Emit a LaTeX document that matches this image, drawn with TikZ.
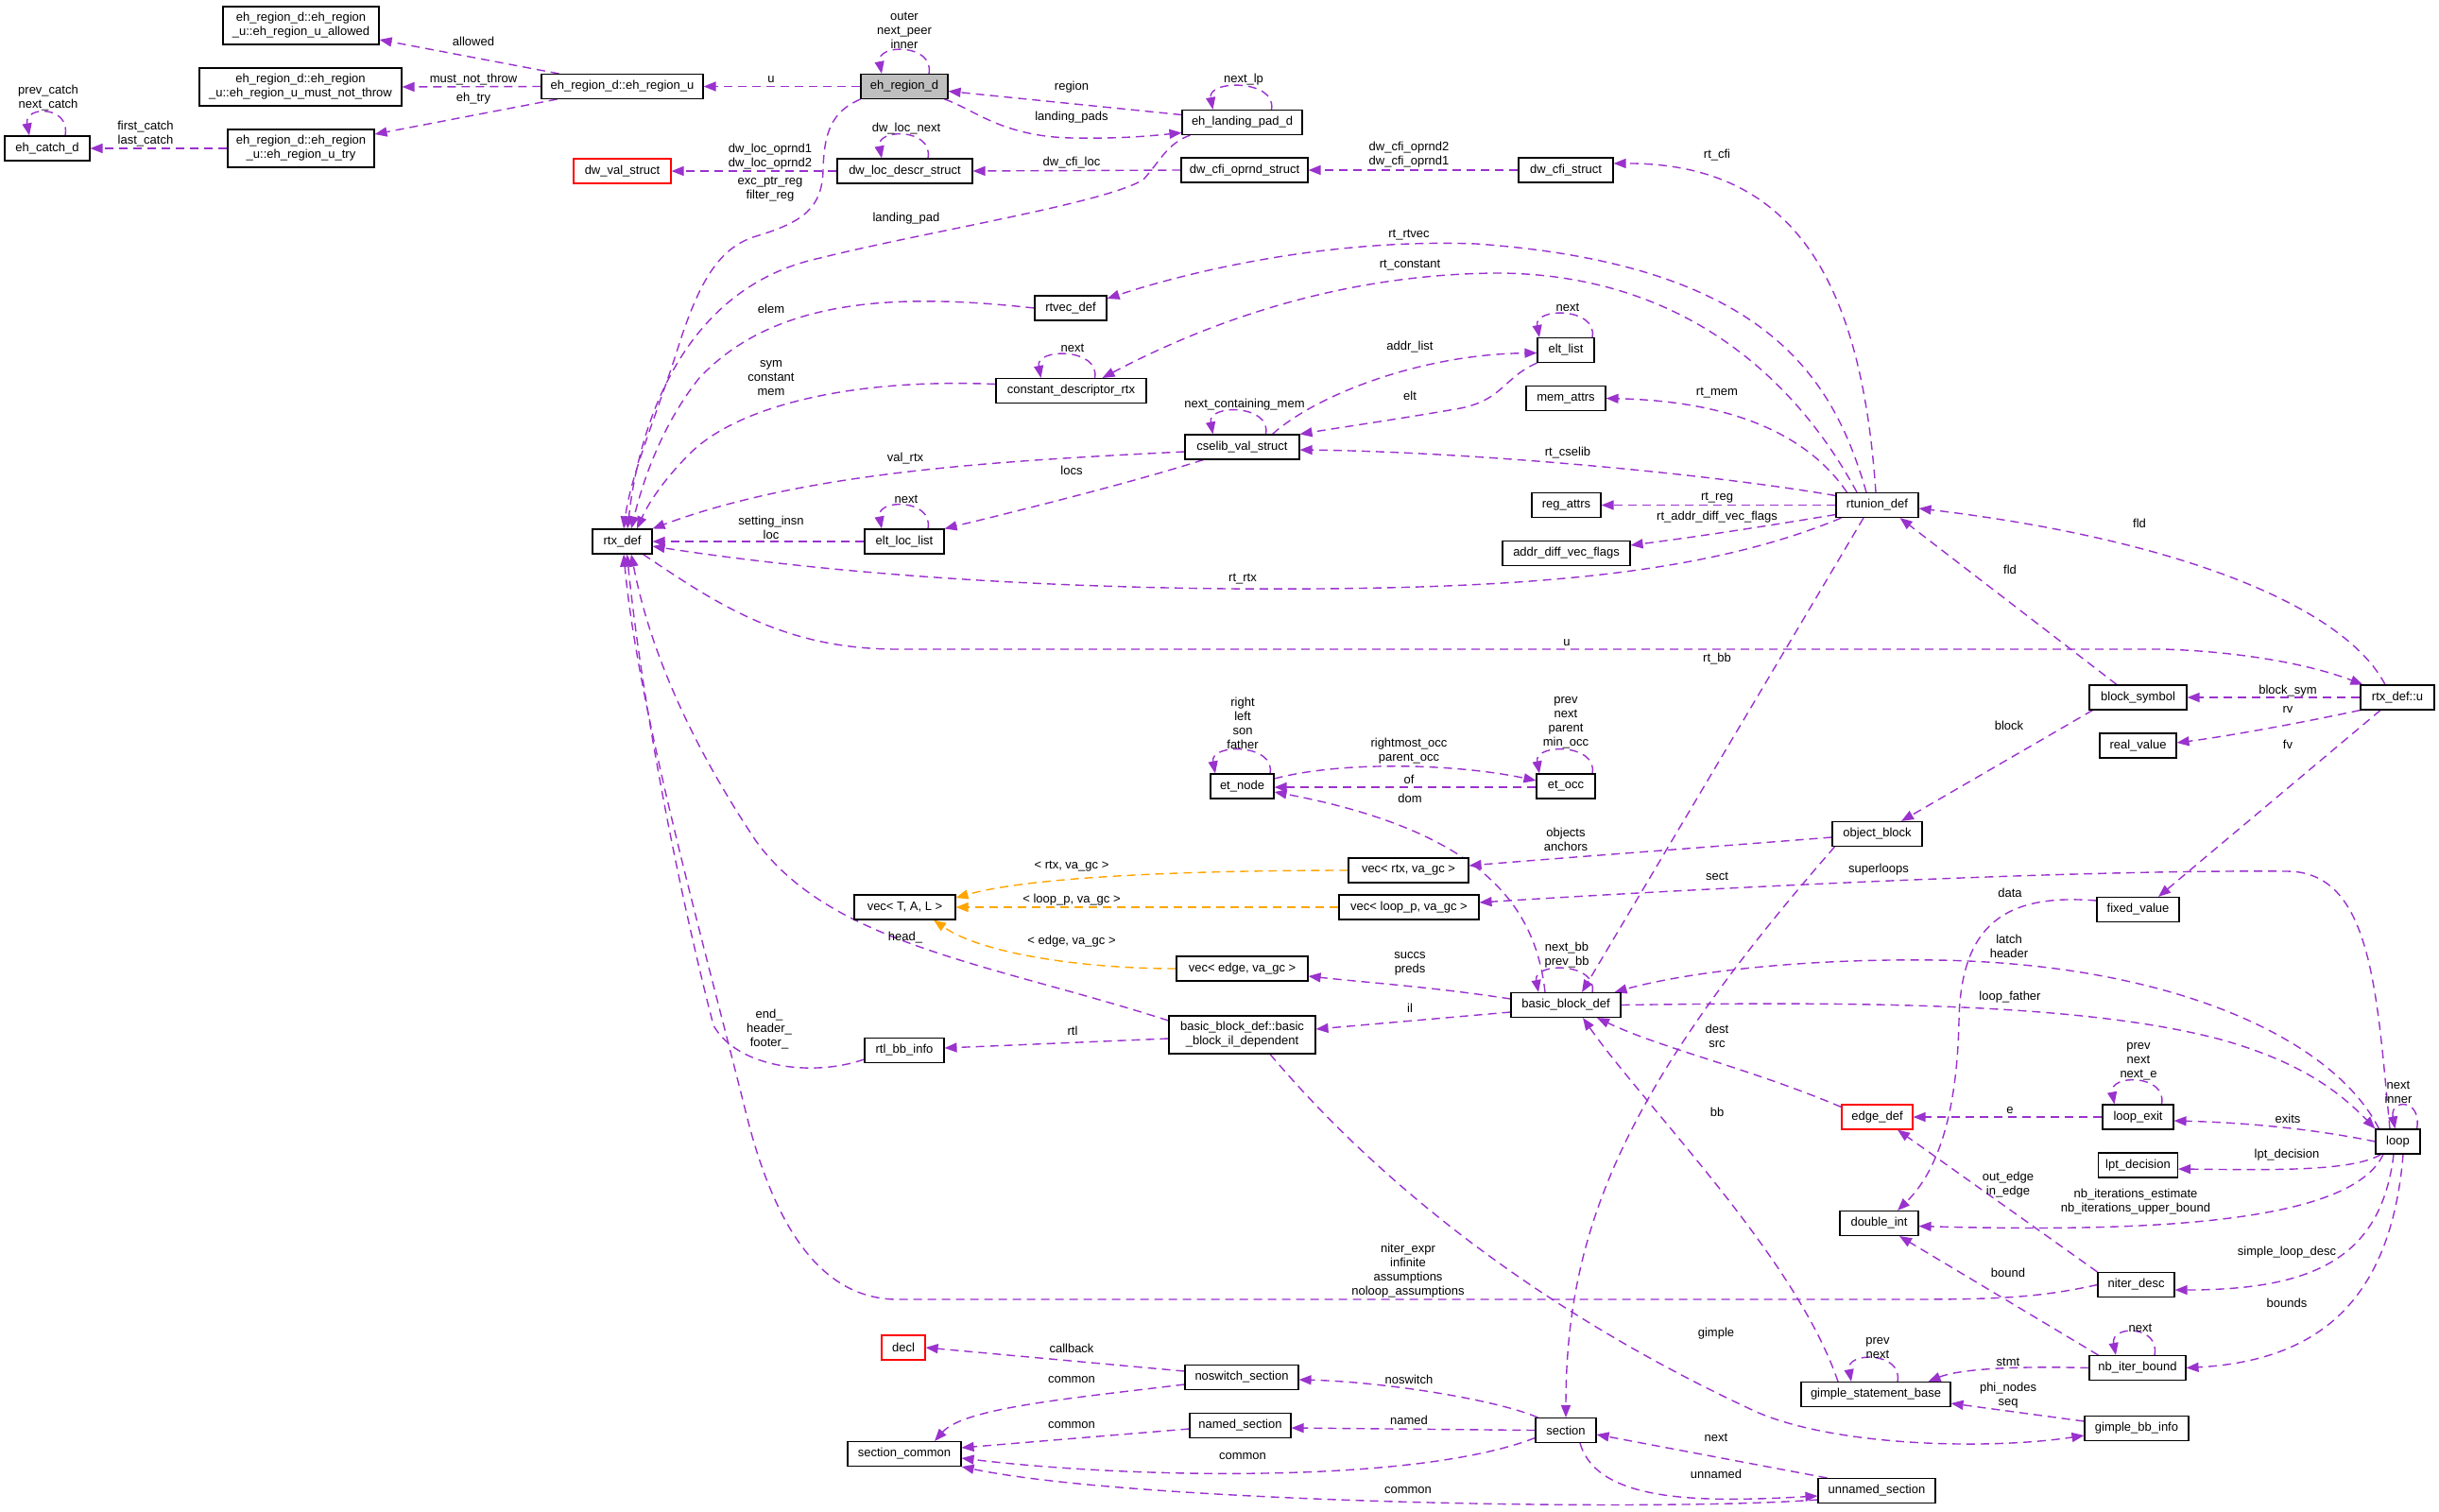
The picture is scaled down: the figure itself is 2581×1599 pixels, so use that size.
\documentclass[tikz,border=0pt]{standalone}
\usepackage{fontspec}
\setmainfont{Liberation Sans}
\usetikzlibrary{arrows.meta}
\definecolor{purp}{HTML}{9A32CD}
\definecolor{orng}{HTML}{FFA500}
\definecolor{gfill}{HTML}{BFBFBF}
\pgfdeclarelayer{background}
\pgfdeclarelayer{edges}
\pgfsetlayers{background,edges,main}
\begin{document}
\begin{tikzpicture}[x=1pt,y=-1pt,font=\fontsize{13}{15}\selectfont,
  box/.style={draw=black,line width=1.1pt,fill=white,inner sep=0pt,minimum height=26pt,align=center},
  lbl/.style={inner sep=0pt,align=center},
  conn/.style={draw=purp,line width=1.4pt,dash pattern=on 9pt off 6pt,-{Triangle[length=13pt,width=10pt]}},
  oconn/.style={conn,draw=orng}]
\begin{pgfonlayer}{background}
\fill[white] (0,0) rectangle (2581,1599);
\end{pgfonlayer}
\useasboundingbox (0,0) rectangle (2581,1599);

% ---------------- nodes ----------------
\node[box,minimum width=165pt,minimum height=40pt] (allowed) at (318.5,27) {eh\_region\_d::eh\_region\\\_u::eh\_region\_u\_allowed};
\node[box,minimum width=214pt,minimum height=40pt] (mustnot) at (318,92) {eh\_region\_d::eh\_region\\\_u::eh\_region\_u\_must\_not\_throw};
\node[box,minimum width=90pt] (ecatch) at (50,157) {eh\_catch\_d};
\node[box,minimum width=155pt,minimum height=40pt] (utry) at (318.5,157) {eh\_region\_d::eh\_region\\\_u::eh\_region\_u\_try};
\node[box,minimum width=171pt] (ehu) at (658.5,91.5) {eh\_region\_d::eh\_region\_u};
\node[box,draw=red,minimum width=103pt] (dwval) at (658.5,181) {dw\_val\_struct};
\node[box,fill=gfill,minimum width=92pt] (ehr) at (957,91.5) {eh\_region\_d};
\node[box,minimum width=127pt] (ehlp) at (1314.5,129.5) {eh\_landing\_pad\_d};
\node[box,minimum width=143pt] (dwloc) at (957.5,181) {dw\_loc\_descr\_struct};
\node[box,minimum width=134pt] (cfiop) at (1317,180) {dw\_cfi\_oprnd\_struct};
\node[box,minimum width=100pt] (cfi) at (1657,180) {dw\_cfi\_struct};
\node[box,minimum width=76pt] (rtvec) at (1133,326) {rtvec\_def};
\node[box,minimum width=159pt] (cdr) at (1133.5,413.5) {constant\_descriptor\_rtx};
\node[box,minimum width=60pt] (eltlist) at (1657,370.5) {elt\_list};
\node[box,minimum width=84pt] (memattrs) at (1657,421.5) {mem\_attrs};
\node[box,minimum width=121pt] (cselib) at (1314.5,473) {cselib\_val\_struct};
\node[box,minimum width=63pt] (rtx) at (658.5,573) {rtx\_def};
\node[box,minimum width=84pt] (eltloc) at (957,573) {elt\_loc\_list};
\node[box,minimum width=73pt] (regattrs) at (1657.5,534.5) {reg\_attrs};
\node[box,minimum width=135pt] (advf) at (1657.5,585.5) {addr\_diff\_vec\_flags};
\node[box,minimum width=87pt] (rtunion) at (1986.5,534.5) {rtunion\_def};
\node[box,minimum width=103pt] (bsym) at (2262.5,738) {block\_symbol};
\node[box,minimum width=78pt] (rtxu) at (2537,738) {rtx\_def::u};
\node[box,minimum width=81pt] (realv) at (2262.5,789) {real\_value};
\node[box,minimum width=67pt] (etnode) at (1314.5,832) {et\_node};
\node[box,minimum width=62pt] (etocc) at (1657,832) {et\_occ};
\node[box,minimum width=95pt] (objblk) at (1986.5,882.5) {object\_block};
\node[box,minimum width=127pt] (vecrtx) at (1490.5,921) {vec< rtx, va\_gc >};
\node[box,minimum width=107pt] (vectal) at (957.5,960) {vec< T, A, L >};
\node[box,minimum width=148pt] (veclp) at (1491,960) {vec< loop\_p, va\_gc >};
\node[box,minimum width=87pt] (fixv) at (2262.5,962.5) {fixed\_value};
\node[box,minimum width=139pt] (vecedge) at (1314.5,1025) {vec< edge, va\_gc >};
\node[box,minimum width=116pt] (bbd) at (1657,1063.5) {basic\_block\_def};
\node[box,minimum width=155pt,minimum height=40pt] (bbil) at (1314.5,1095) {basic\_block\_def::basic\\\_block\_il\_dependent};
\node[box,minimum width=84pt] (rtlbb) at (957,1111.5) {rtl\_bb\_info};
\node[box,draw=red,minimum width=75pt] (edgedef) at (1986.5,1182) {edge\_def};
\node[box,minimum width=75pt] (lexit) at (2262.5,1182) {loop\_exit};
\node[box,minimum width=47pt] (loopn) at (2537.5,1208) {loop};
\node[box,minimum width=84pt] (lpt) at (2262.5,1233) {lpt\_decision};
\node[box,minimum width=83pt] (dint) at (1988.5,1294.5) {double\_int};
\node[box,minimum width=81pt] (niter) at (2260.5,1359.5) {niter\_desc};
\node[box,draw=red,minimum width=46pt] (decl) at (956,1426) {decl};
\node[box,minimum width=120pt] (noswitch) at (1314,1457.5) {noswitch\_section};
\node[box,minimum width=102pt] (nbiter) at (2262,1447.5) {nb\_iter\_bound};
\node[box,minimum width=158pt] (gsb) at (1985,1475.5) {gimple\_statement\_base};
\node[box,minimum width=107pt] (named) at (1312.5,1508.5) {named\_section};
\node[box,minimum width=110pt] (gbb) at (2261,1511.5) {gimple\_bb\_info};
\node[box,minimum width=64pt] (sectn) at (1657,1513.5) {section};
\node[box,minimum width=120pt] (scommon) at (957,1538.5) {section\_common};
\node[box,minimum width=124pt] (unnamed) at (1986,1577.5) {unnamed\_section};

% ---------------- edges ----------------
\begin{pgfonlayer}{edges}
\draw[conn] ([xshift=-67pt]ehu.north) -- ([shift={(0,15)}]allowed.east);
\draw[conn] (ehu.west) -- (mustnot.east);
\draw[conn] ([xshift=-69pt]ehu.south) -- ([shift={(0,-15)}]utry.east);
\draw[conn] (utry.west) -- (ecatch.east);
\draw[conn] ([xshift=19pt]ecatch.north) .. controls +(6,-32) and +(-6,-32) .. ([xshift=-19pt]ecatch.north);
\draw[conn] (ehr.west) -- (ehu.east);
\draw[conn] ([xshift=26pt]ehr.north) .. controls +(6,-32) and +(-6,-32) .. ([xshift=-24pt]ehr.north);
\draw[conn] ([shift={(0,-8)}]ehlp.west) -- ([shift={(0,5)}]ehr.east);
\draw[conn] ([xshift=-4pt]ehr.south east) .. controls (1030,115) and (1060,145) .. (1136,146) .. controls (1190,147) and (1225,143) .. ([shift={(0,11)}]ehlp.west);
\draw[conn] ([xshift=31pt]ehlp.north) .. controls +(6,-32) and +(-6,-32) .. ([xshift=-31pt]ehlp.north);
\draw[conn] ([xshift=9pt]ehlp.south west) .. controls (1235,152) and (1228,170) .. (1210,190) .. controls (1170,215) and (980,245) .. (868,273) .. controls (740,300) and (680,420) .. ([xshift=5.5pt]rtx.north);
\draw[conn] (ehr.south west) .. controls (880,118) and (872,140) .. (871,180) .. controls (870,220) and (850,235) .. (800,250) .. controls (760,262) and (740,300) .. (720,360) .. controls (695,440) and (668,500) .. ([xshift=1.5pt]rtx.north);
\draw[conn] (dwloc.west) -- (dwval.east);
\draw[conn] ([xshift=24.5pt]dwloc.north) .. controls +(6,-32) and +(-6,-32) .. ([xshift=-24.5pt]dwloc.north);
\draw[conn] (cfiop.west) -- (dwloc.east);
\draw[conn] (cfi.west) -- (cfiop.east);
\draw[conn] ([xshift=-1.5pt]rtunion.north) .. controls (1970,300) and (1900,172) .. ([shift={(0,-7)}]cfi.east);
\draw[conn] ([xshift=-11.5pt]rtunion.north) .. controls (1940,400) and (1870,280) .. (1562,258) .. controls (1400,252) and (1250,290) .. ([shift={(0,-10)}]rtvec.east);
\draw[conn] (rtvec.west) .. controls (950,310) and (820,315) .. (740,400) .. controls (700,450) and (680,510) .. ([xshift=9.5pt]rtx.north);
\draw[conn] ([xshift=-21.5pt]rtunion.north) .. controls (1900,400) and (1780,290) .. (1585,289) .. controls (1420,290) and (1280,340) .. ([xshift=33pt]cdr.north);
\draw[conn] ([xshift=25pt]cdr.north) .. controls +(6,-32) and +(-6,-32) .. ([xshift=-32pt]cdr.north);
\draw[conn] ([shift={(0,-7)}]cdr.west) .. controls (900,400) and (780,430) .. (730,480) .. controls (700,510) and (685,535) .. ([xshift=15.5pt]rtx.north);
\draw[conn] ([xshift=32pt]cselib.north) .. controls (1390,420) and (1500,375) .. ([shift={(0,3)}]eltlist.west);
\draw[conn] ([xshift=28pt]eltlist.north) .. controls +(6,-32) and +(-6,-32) .. ([xshift=-28pt]eltlist.north);
\draw[conn] (eltlist.south west) .. controls (1590,400) and (1590,425) .. (1540,433) .. controls (1470,445) and (1420,452) .. (cselib.north east);
\draw[conn] ([xshift=25pt]cselib.north) .. controls +(6,-32) and +(-6,-32) .. ([xshift=-31pt]cselib.north);
\draw[conn] ([xshift=12pt]rtunion.north west) .. controls (1920,470) and (1850,425) .. (memattrs.east);
\draw[conn] ([shift={(0,-10)}]rtunion.west) .. controls (1800,500) and (1550,478) .. ([shift={(0,3)}]cselib.east);
\draw[conn] ([shift={(0,5)}]cselib.west) .. controls (1050,488) and (850,500) .. (rtx.north east);
\draw[conn] ([xshift=20pt]cselib.south west) .. controls (1200,510) and (1080,540) .. (eltloc.north east);
\draw[conn] ([xshift=25pt]eltloc.north) .. controls +(6,-32) and +(-6,-32) .. ([xshift=-24pt]eltloc.north);
\draw[conn] (eltloc.west) -- (rtx.east);
\draw[conn] (rtunion.west) -- (regattrs.east);
\draw[conn] ([shift={(0,10)}]rtunion.west) .. controls (1850,560) and (1780,570) .. ([shift={(0,-8.5)}]advf.east);
\draw[conn] ([xshift=6pt]rtunion.south west) .. controls (1800,610) and (1600,625) .. (1300,623) .. controls (1000,620) and (800,595) .. ([shift={(0,5)}]rtx.east);
\draw[conn] ([xshift=-10pt]rtx.south east) .. controls (760,640) and (830,687) .. (950,687) -- (2290,687) .. controls (2380,690) and (2450,705) .. ([xshift=3pt]rtxu.north west);
\draw[conn] ([xshift=-14.5pt]rtunion.south) -- ([xshift=17pt]bbd.north);
\draw[conn] ([xshift=-13pt]rtxu.north) .. controls (2480,640) and (2300,570) .. ([shift={(0,3.5)}]rtunion.east);
\draw[conn] ([xshift=-22.5pt]bsym.north) -- ([xshift=-20pt]rtunion.south east);
\draw[conn] (rtxu.west) -- (bsym.east);
\draw[conn] (rtxu.south west) .. controls (2420,768) and (2350,780) .. ([shift={(0,-3)}]realv.east);
\draw[conn] ([xshift=-18pt]rtxu.south) -- ([xshift=21.5pt]fixv.north);
\draw[conn] ([xshift=4pt]bsym.south west) -- ([xshift=25.5pt]objblk.north);
\draw[conn] ([xshift=29.5pt]etnode.north) .. controls +(6,-32) and +(-6,-32) .. ([xshift=-28.5pt]etnode.north);
\draw[conn] ([shift={(0,-8)}]etnode.east) .. controls (1420,805) and (1540,808) .. ([shift={(0,-6)}]etocc.west);
\draw[conn] ([shift={(0,1)}]etocc.west) -- ([shift={(0,1)}]etnode.east);
\draw[conn] ([xshift=28pt]etocc.north) .. controls +(6,-32) and +(-6,-32) .. ([xshift=-28pt]etocc.north);
\draw[conn] ([xshift=-22pt]bbd.north) .. controls (1625,960) and (1570,880) .. ([shift={(0,6)}]etnode.east);
\draw[conn] ([shift={(0,3.5)}]objblk.west) .. controls (1800,897) and (1650,908) .. ([shift={(0,-5)}]vecrtx.east);
\draw[oconn] (vecrtx.west) .. controls (1300,921) and (1100,925) .. ([shift={(0,-10)}]vectal.east);
\draw[oconn] (veclp.west) -- (vectal.east);
\draw[oconn] (vecedge.west) .. controls (1150,1025) and (1040,1010) .. ([xshift=30.5pt]vectal.south);
\draw[conn] ([xshift=-8.5pt]loopn.north) .. controls (2515,1050) and (2510,922) .. (2420,922) .. controls (2200,920) and (1800,940) .. ([shift={(0,-5)}]veclp.east);
\draw[conn] ([xshift=3pt]objblk.south west) .. controls (1720,1150) and (1657,1300) .. (sectn.north);
\draw[conn] ([shift={(0,-9.5)}]fixv.west) .. controls (2120,945) and (2075,980) .. (2073,1080) .. controls (2071,1180) and (2050,1240) .. ([xshift=19.5pt]dint.north);
\draw[conn] ([shift={(0,-6.5)}]bbd.west) .. controls (1520,1045) and (1450,1040) .. ([shift={(0,8)}]vecedge.east);
\draw[conn] ([xshift=28pt]bbd.north) .. controls +(6,-32) and +(-6,-32) .. ([xshift=-29pt]bbd.north);
\draw[conn] ([xshift=4pt]loopn.north west) .. controls (2470,1100) and (2300,1020) .. (2050,1016) .. controls (1900,1014) and (1780,1030) .. ([xshift=-7pt]bbd.north east);
\draw[conn] (bbd.east) .. controls (1950,1060) and (2200,1060) .. (2350,1100) .. controls (2440,1125) and (2480,1160) .. (loopn.north west);
\draw[conn] ([shift={(0,7.5)}]bbd.west) -- ([shift={(0,-6)}]bbil.east);
\draw[conn] ([shift={(0,-15)}]bbil.west) .. controls (1050,1020) and (880,1000) .. (800,890) .. controls (740,800) and (690,700) .. ([xshift=9.5pt]rtx.south);
\draw[conn] ([shift={(0,4)}]bbil.west) -- ([shift={(0,-2.5)}]rtlbb.east);
\draw[conn] ([shift={(0,9.5)}]rtlbb.west) .. controls (860,1140) and (780,1130) .. (755,1085) .. controls (720,950) and (680,750) .. ([xshift=5pt]rtx.south);
\draw[conn] ([shift={(0,3)}]edgedef.north west) .. controls (1850,1130) and (1760,1110) .. ([xshift=33pt]bbd.south);
\draw[conn] ([xshift=-40pt]gsb.north) .. controls (1900,1330) and (1740,1170) .. ([xshift=18pt]bbd.south);
\draw[conn] (lexit.west) -- (edgedef.east);
\draw[conn] ([xshift=25pt]lexit.north) .. controls +(6,-32) and +(-6,-32) .. ([xshift=-25pt]lexit.north);
\draw[conn] (loopn.west) .. controls (2450,1195) and (2380,1188) .. ([shift={(0,4)}]lexit.east);
\draw[conn] ([xshift=20pt]loopn.north) .. controls +(6,-32) and +(-6,-32) .. ([xshift=-3pt]loopn.north);
\draw[conn] ([xshift=6pt]loopn.south west) .. controls (2490,1240) and (2400,1238) .. ([shift={(0,4)}]lpt.east);
\draw[conn] (niter.north west) -- ([xshift=21.5pt]edgedef.south);
\draw[conn] ([xshift=-15.5pt]loopn.south) .. controls (2490,1290) and (2300,1305) .. ([shift={(0,3)}]dint.east);
\draw[conn] ([xshift=-4.5pt]loopn.south) .. controls (2520,1330) and (2450,1365) .. ([shift={(0,5.5)}]niter.east);
\draw[conn] (niter.west) .. controls (2150,1375) and (2100,1375) .. (2000,1375) -- (950,1375) .. controls (870,1375) and (820,1300) .. (790,1180) .. controls (740,980) and (675,750) .. ([xshift=1.5pt]rtx.south);
\draw[conn] ([xshift=10pt]nbiter.north west) -- ([xshift=21.5pt]dint.south);
\draw[conn] ([xshift=5.5pt]loopn.south) .. controls (2530,1380) and (2450,1440) .. (nbiter.east);
\draw[conn] ([xshift=18pt]nbiter.north) .. controls +(6,-32) and +(-6,-32) .. ([xshift=-23pt]nbiter.north);
\draw[conn] (nbiter.west) .. controls (2120,1445) and (2070,1450) .. ([xshift=-24pt]gsb.north east);
\draw[conn] ([xshift=23pt]gsb.north) .. controls +(6,-32) and +(-6,-32) .. ([xshift=-26pt]gsb.north);
\draw[conn] ([shift={(0,-7.5)}]gbb.west) -- ([shift={(0,9.5)}]gsb.east);
\draw[conn] ([xshift=29.5pt]bbil.south) .. controls (1500,1300) and (1700,1420) .. (1850,1490) .. controls (1930,1530) and (2100,1535) .. ([shift={(0,7.5)}]gbb.west);
\draw[conn] ([shift={(0,-6.5)}]noswitch.west) -- (decl.east);
\draw[conn] ([shift={(0,7.5)}]noswitch.west) .. controls (1130,1480) and (1020,1490) .. ([xshift=32pt]scommon.north);
\draw[conn] ([xshift=3pt]sectn.north west) .. controls (1580,1480) and (1460,1462) .. ([shift={(0,2.5)}]noswitch.east);
\draw[conn] ([shift={(0,3.5)}]named.west) -- ([shift={(0,-6.5)}]scommon.east);
\draw[conn] (sectn.west) -- ([shift={(0,2.5)}]named.east);
\draw[conn] ([shift={(0,8)}]sectn.west) .. controls (1500,1570) and (1200,1565) .. ([shift={(0,4.5)}]scommon.east);
\draw[conn] ([xshift=10pt]unnamed.north west) -- ([shift={(0,4.5)}]sectn.east);
\draw[conn] ([xshift=15pt]sectn.south) .. controls (1690,1590) and (1800,1590) .. ([shift={(0,5.5)}]unnamed.west);
\draw[conn] ([shift={(0,9.5)}]unnamed.west) .. controls (1750,1600) and (1200,1590) .. (scommon.south east);
\end{pgfonlayer}

% ---------------- labels ----------------
\node[lbl] (l1) at (501,44) {allowed};
\node[lbl] (l2) at (501,84) {must\_not\_throw};
\node[lbl] (l3) at (501,104) {eh\_try};
\node[lbl] (l4) at (51,104) {prev\_catch\\next\_catch};
\node[lbl] (l5) at (154,142) {first\_catch\\last\_catch};
\node[lbl] (l6) at (957,32) {outer\\next\_peer\\inner};
\node[lbl] (l7) at (816,84) {u};
\node[lbl] (l8) at (1134,92) {region};
\node[lbl] (l9) at (1134,124) {landing\_pads};
\node[lbl] (l10) at (1316,84) {next\_lp};
\node[lbl] (l11) at (959,136) {dw\_loc\_next};
\node[lbl] (l12) at (815,166) {dw\_loc\_oprnd1\\dw\_loc\_oprnd2};
\node[lbl] (l13) at (815,200) {exc\_ptr\_reg\\filter\_reg};
\node[lbl] (l14) at (959,231) {landing\_pad};
\node[lbl] (l15) at (1134,172) {dw\_cfi\_loc};
\node[lbl] (l16) at (1491,164) {dw\_cfi\_oprnd2\\dw\_cfi\_oprnd1};
\node[lbl] (l17) at (1817,164) {rt\_cfi};
\node[lbl] (l18) at (1491,249) {rt\_rtvec};
\node[lbl] (l19) at (1492,281) {rt\_constant};
\node[lbl] (l20) at (816,327) {elem};
\node[lbl] (l21) at (1135,368) {next};
\node[lbl] (l22) at (1659,325) {next};
\node[lbl] (l23) at (1492,367) {addr\_list};
\node[lbl] (l24) at (816,400) {sym\\constant\\mem};
\node[lbl] (l25) at (1317,428) {next\_containing\_mem};
\node[lbl] (l26) at (1492,419) {elt};
\node[lbl] (l27) at (1817,416) {rt\_mem};
\node[lbl] (l28) at (1659,479) {rt\_cselib};
\node[lbl] (l29) at (958,485) {val\_rtx};
\node[lbl] (l30) at (1134,498) {locs};
\node[lbl] (l31) at (959,528) {next};
\node[lbl] (l32) at (816,558) {setting\_insn\\loc};
\node[lbl] (l33) at (1817,527) {rt\_reg};
\node[lbl] (l34) at (1817,547) {rt\_addr\_diff\_vec\_flags};
\node[lbl] (l35) at (1315,613) {rt\_rtx};
\node[lbl] (l36) at (2264,554) {fld};
\node[lbl] (l37) at (2127,603) {fld};
\node[lbl] (l38) at (1658,680) {u};
\node[lbl] (l39) at (1817,697) {rt\_bb};
\node[lbl] (l40) at (2421,731) {block\_sym};
\node[lbl] (l41) at (2421,751) {rv};
\node[lbl] (l42) at (2421,788) {fv};
\node[lbl] (l43) at (2126,768) {block};
\node[lbl] (l44) at (1315,765) {right\\left\\son\\father};
\node[lbl] (l45) at (1491,795) {rightmost\_occ\\parent\_occ};
\node[lbl] (l46) at (1491,825) {of};
\node[lbl] (l47) at (1657,765) {prev\\next\\parent\\min\_occ};
\node[lbl] (l48) at (1492,845) {dom};
\node[lbl] (l49) at (1657,888) {objects\\anchors};
\node[lbl] (l50) at (1134,917) {< rtx, va\_gc >};
\node[lbl] (l51) at (1134,952) {< loop\_p, va\_gc >};
\node[lbl] (l52) at (958,992) {head\_};
\node[lbl] (l53) at (1134,996) {< edge, va\_gc >};
\node[lbl] (l54) at (1658,1011) {next\_bb\\prev\_bb};
\node[lbl] (l55) at (1492,1020) {succs\\preds};
\node[lbl] (l56) at (1492,1067) {il};
\node[lbl] (l57) at (1135,1091) {rtl};
\node[lbl] (l58) at (814,1089) {end\_\\header\_\\footer\_};
\node[lbl] (l59) at (1817,927) {sect};
\node[lbl] (l60) at (1988,920) {superloops};
\node[lbl] (l61) at (2127,945) {data};
\node[lbl] (l62) at (2126,1001) {latch\\header};
\node[lbl] (l63) at (2127,1055) {loop\_father};
\node[lbl] (l64) at (1817,1096) {dest\\src};
\node[lbl] (l65) at (2263,1123) {prev\\next\\next\_e};
\node[lbl] (l66) at (2538,1156) {next\\inner};
\node[lbl] (l67) at (1817,1177) {bb};
\node[lbl] (l68) at (2127,1175) {e};
\node[lbl] (l69) at (2421,1184) {exits};
\node[lbl] (l70) at (2420,1222) {lpt\_decision};
\node[lbl] (l71) at (2125,1254) {out\_edge\\in\_edge};
\node[lbl] (l72) at (2260,1272) {nb\_iterations\_estimate\\nb\_iterations\_upper\_bound};
\node[lbl] (l73) at (2420,1325) {simple\_loop\_desc};
\node[lbl] (l74) at (1490,1345) {niter\_expr\\infinite\\assumptions\\noloop\_assumptions};
\node[lbl] (l75) at (2125,1347) {bound};
\node[lbl] (l76) at (2420,1379) {bounds};
\node[lbl] (l77) at (2265,1405) {next};
\node[lbl] (l78) at (1134,1427) {callback};
\node[lbl] (l79) at (1134,1460) {common};
\node[lbl] (l80) at (1491,1460) {noswitch};
\node[lbl] (l81) at (1987,1427) {prev\\next};
\node[lbl] (l82) at (2125,1441) {stmt};
\node[lbl] (l83) at (2125,1477) {phi\_nodes\\seq};
\node[lbl] (l84) at (1816,1411) {gimple};
\node[lbl] (l85) at (1491,1503) {named};
\node[lbl] (l86) at (1134,1508) {common};
\node[lbl] (l87) at (1315,1541) {common};
\node[lbl] (l88) at (1816,1521) {next};
\node[lbl] (l89) at (1816,1560) {unnamed};
\node[lbl] (l90) at (1490,1577) {common};
\end{tikzpicture}
\end{document}
